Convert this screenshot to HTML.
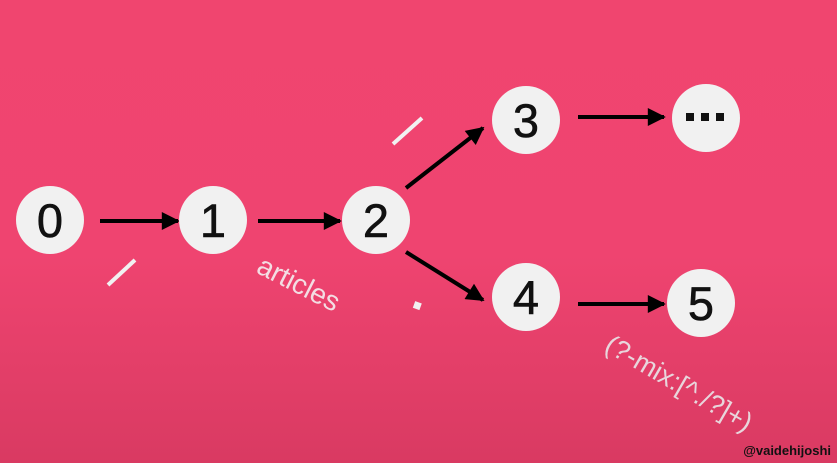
<!DOCTYPE html>
<html><head><meta charset="utf-8"><style>
html,body{margin:0;padding:0;width:837px;height:463px;overflow:hidden}
body{background:linear-gradient(to bottom,#f0456f 0%,#ef4470 55%,#d93a62 100%)}
svg{position:absolute;left:0;top:0}
text{font-family:"Liberation Sans",sans-serif}
</style></head><body>
<svg width="837" height="463" viewBox="0 0 837 463">
<defs>
<marker id="b" viewBox="0 0 10 10" markerWidth="22" markerHeight="18" refX="9" refY="5" orient="auto" markerUnits="userSpaceOnUse"><path d="M0,0 L10,5 L0,10 Z" fill="#000"/></marker></defs>
<g stroke="#000" stroke-width="4" fill="none">
<line x1="100" y1="221" x2="178" y2="221" marker-end="url(#b)"/>
<line x1="258" y1="221" x2="340" y2="221" marker-end="url(#b)"/>
<line x1="406" y1="188" x2="483" y2="128" marker-end="url(#b)"/>
<line x1="406" y1="252" x2="483" y2="300" marker-end="url(#b)"/>
<line x1="578" y1="117" x2="664" y2="117" marker-end="url(#b)"/>
<line x1="578" y1="304" x2="664" y2="304" marker-end="url(#b)"/>
</g>
<g fill="#f1f1f1">
<circle cx="50" cy="220" r="34"/><circle cx="213" cy="220" r="34"/><circle cx="376" cy="220" r="34"/>
<circle cx="526" cy="120" r="34"/><circle cx="706" cy="118" r="34"/>
<circle cx="526" cy="297" r="34"/><circle cx="701" cy="303" r="34"/>
</g>
<g font-size="47" fill="#111" stroke="#111" stroke-width="0.6" text-anchor="middle">
<text x="50" y="237">0</text><text x="213" y="237">1</text><text x="376" y="237">2</text>
<text x="526" y="137">3</text><text x="526" y="314">4</text><text x="701" y="320">5</text>
</g>
<g fill="#111"><rect x="686" y="113" width="8" height="8"/><rect x="701" y="113" width="8" height="8"/><rect x="716" y="113" width="8" height="8"/></g>
<g stroke="#f1f1f1" stroke-width="4">
<line x1="108" y1="285" x2="135" y2="260"/>
<line x1="393" y1="144" x2="422" y2="118"/>
</g>
<rect x="414" y="302" width="7" height="7" fill="#f1f1f1" transform="rotate(20 417 305)"/>
<text x="255" y="272" font-size="28" fill="#f3dde3" transform="rotate(27 255 272)">articles</text>
<text x="603" y="350" font-size="27" fill="#e8d6dc" transform="rotate(30 603 350)">(?-mix:[^./?]+)</text>
<text x="831" y="455" font-size="13" font-weight="bold" fill="#111" text-anchor="end">@vaidehijoshi</text>
</svg>
</body></html>
